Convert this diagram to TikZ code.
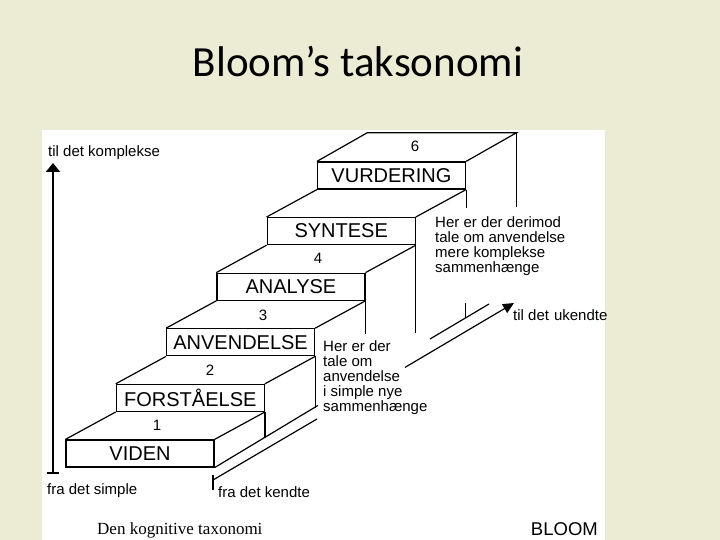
\documentclass[tikz,border=0pt]{standalone}
\usepackage{fontspec}
\setmainfont{Liberation Sans}
\newfontfamily\titlefont{Carlito}
\newfontfamily\capfont{Liberation Serif}
\usetikzlibrary{arrows.meta,calc}
\definecolor{slidebg}{RGB}{236,236,212}
\begin{document}
\begin{tikzpicture}[x=1pt,y=-1pt,
  stepbox/.style={draw, line width=1.2pt, minimum width=148pt, minimum height=27pt, inner sep=0pt, font=\fontsize{20}{20}\selectfont},
  edge/.style={line width=1.2pt},
  note/.style={font=\fontsize{15}{15}\selectfont, inner sep=0pt, align=left},
  num/.style={font=\fontsize{15}{15}\selectfont, inner sep=0pt}]
\fill[slidebg] (0,0) rectangle (720,540);
\useasboundingbox (0,0) rectangle (720,540);
\fill[white] (42,130) rectangle (605,540);

% title
\node[font=\titlefont\fontsize{43}{43}\selectfont, anchor=base, inner sep=0pt] (title) at (358,77) {Bloom’s taksonomi};

% steps
\node[stepbox] (s0) at (140,453.5) {VIDEN};
\node[stepbox] (s1) at (190.3,397.9) {FORSTÅELSE};
\node[stepbox] (s2) at (240.6,342.3) {ANVENDELSE};
\node[stepbox] (s3) at (290.9,286.7) {ANALYSE};
\node[stepbox] (s4) at (341.2,231.1) {SYNTESE};
\node[stepbox] (s5) at (391.5,175.5) {VURDERING};

% treads
\foreach \a/\b in {s0/s1,s1/s2,s2/s3,s3/s4,s4/s5}
  \draw[edge] (\a.north west) -- (\b.south west) (\a.north east) -- (\b.south east);
\coordinate (bl) at ($(s5.north west)+(50.3,-28.6)$);
\coordinate (br) at ($(s5.north east)+(50.3,-28.6)$);
\draw[edge] (s5.north west) -- (bl) -- (br) -- (s5.north east);

% numbers
\node[num] (n1) at (157,425) {1};
\node[num] (n2) at (210,370) {2};
\node[num] (n3) at (263,315) {3};
\node[num] (n4) at (318,258) {4};
\node[num] (n6) at (415,146) {6};

% side verticals
\draw[edge] (s1.south east) -- ++(0,25.8);
\draw[edge] (s2.south east) -- ++(0,51.7);
\draw[edge] (s3.south east) -- ++(0,33);
\draw[edge] (s4.south east) -- ++(0,88);
\draw[edge] (s5.south east) -- ++(0,18);
\coordinate (v5a) at (465.5,303);
\coordinate (v5b) at (465.5,318);
\draw[edge] (v5a) -- (v5b);
\draw[edge] (br) -- ++(0,74);

% bottom edge of the staircase
\coordinate (be1) at (318,405.4);
\coordinate (be2) at (430,339);
\coordinate (be3) at (489,304);
\draw[edge] (s0.south east) -- (be1);
\draw[edge] (be2) -- (be3);

% depth axis: from the known to the unknown
\coordinate (ka) at (213,475);
\coordinate (kb) at (213,490);
\coordinate (k0) at (213,480);
\coordinate (k1) at (317,419);
\coordinate (k2) at (405,367.4);
\coordinate (k3) at (514,303);
\draw[edge] (ka) -- (kb);
\draw[edge] (k0) -- (k1);
\draw[edge, -{Triangle[length=11pt,width=10pt]}] (k2) -- (k3);

% vertical axis: from simple to complex
\coordinate (ax0) at (53,474);
\coordinate (ax1) at (53,163);
\draw[line width=2.5pt, {Bar[width=12pt]}-{Triangle[length=9pt,width=14pt]}] (ax0) -- (ax1);

% labels
\node[note, anchor=base west] (tk) at (48,157) {til det komplekse};
\node[note, anchor=base west] (fs) at (47,494) {fra det simple};
\node[note, anchor=base west] (fk) at (218,497) {fra det kendte};
\node[note, anchor=base west] (tu) at (513,320) {til det\hspace{5pt}ukendte};
\node[note, anchor=north west] (t1) at (323,340) {Her er der\\tale om\\anvendelse\\i simple nye\\sammenhænge};
\node[note, anchor=north west] (t2) at (435,216) {Her er der derimod\\tale om anvendelse\\mere komplekse\\sammenhænge};

% caption
\node[anchor=base west, inner sep=0pt, font=\capfont\fontsize{17}{17}\selectfont] (cap) at (97,534) {Den kognitive taxonomi};
\node[anchor=base east, inner sep=0pt, font=\fontsize{18.5}{18.5}\selectfont] (bloom) at (598,535) {BLOOM};
\end{tikzpicture}
\end{document}
